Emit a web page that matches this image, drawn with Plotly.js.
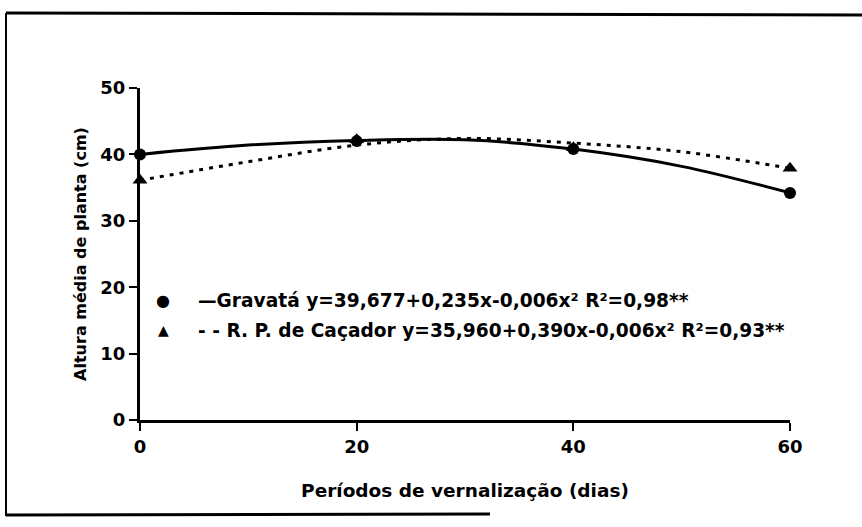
<!DOCTYPE html>
<html>
<head>
<meta charset="utf-8">
<script src="https://cdn.plot.ly/plotly-3.0.1.min.js"></script>
<style>html,body{margin:0;padding:0;background:#fff;}#chart{width:862px;height:527px;}</style>
</head>
<body>
<div id="chart"></div>
<script>
// Observed means
var days = [0, 20, 40, 60];
var gravataObs = [40.0, 42.0, 40.8, 34.2];
var cacadorObs = [36.1, 42.2, 41.0, 37.9];
// Fitted curves
var curveDays = [0, 10, 20, 30, 40, 50, 60];
var gravataFit = [40.0, 41.4, 42.1, 42.2, 40.8, 38.2, 34.2];
var cacadorFit = [36.1, 38.9, 41.4, 42.4, 41.7, 40.4, 37.9];
var xTicks = [0, 20, 40, 60];
var yTicks = [0, 10, 20, 30, 40, 50];
var legendLabels = [
  "\u2014Gravat\u00e1 y=39,677+0,235x-0,006x\u00b2 R\u00b2=0,98**",
  "- - R. P. de Ca\u00e7ador y=35,960+0,390x-0,006x\u00b2 R\u00b2=0,93**"
];

var F = "DejaVu Sans, Liberation Sans, sans-serif";
var traces = [
  {x: curveDays, y: gravataFit, mode: "lines", line: {color: "#000", width: 3, shape: "spline"}, hoverinfo: "skip"},
  {x: curveDays, y: cacadorFit, mode: "lines", line: {color: "#000", width: 3, dash: "4px,6px", shape: "spline"}, hoverinfo: "skip"},
  {x: days, y: gravataObs, mode: "markers", marker: {symbol: "circle", size: 12, color: "#000"}, cliponaxis: false},
  {x: days, y: cacadorObs, mode: "markers", marker: {symbol: "triangle-up", size: 13, color: "#000"}, cliponaxis: false}
];

var px = function(p){ return (p - 140) / 650; };
var py = function(p){ return (420 - p) / 332; };

var layout = {
  width: 862, height: 527,
  margin: {l: 140, r: 72, t: 88, b: 107},
  paper_bgcolor: "#fff", plot_bgcolor: "#fff",
  showlegend: false,
  font: {family: F, color: "#000"},
  xaxis: {
    range: [0, 60], tickvals: xTicks, ticktext: xTicks.map(String),
    showline: true, linecolor: "#000", linewidth: 3, zeroline: false, showgrid: false,
    ticks: "outside", ticklen: 8, tickwidth: 2, tickcolor: "#000",
    tickfont: {family: F, size: 18, color: "#000", weight: "bold"},
    title: {text: "<b>Per\u00edodos de vernaliza\u00e7\u00e3o (dias)</b>", font: {family: F, size: 18.5, color: "#000"}, standoff: 29}
  },
  yaxis: {
    range: [0, 50], tickvals: yTicks, ticktext: yTicks.map(String),
    showline: true, linecolor: "#000", linewidth: 3, zeroline: false, showgrid: false,
    ticks: "outside", ticklen: 8, tickwidth: 2, tickcolor: "#000",
    tickfont: {family: F, size: 18, color: "#000", weight: "bold"},
    title: {text: "<b>Altura m\u00e9dia de planta (cm)</b>", font: {family: F, size: 16, color: "#000"}, standoff: 10}
  },
  annotations: [
    {xref: "paper", yref: "paper", x: px(163), y: py(300), text: "\u25cf", showarrow: false, font: {size: 16, color: "#000"}, xanchor: "center", yanchor: "middle"},
    {xref: "paper", yref: "paper", x: px(163), y: py(330), text: "\u25b2", showarrow: false, font: {size: 14, color: "#000"}, xanchor: "center", yanchor: "middle"},
    {xref: "paper", yref: "paper", x: px(196), y: py(300), text: "<b>" + legendLabels[0] + "</b>", showarrow: false, font: {family: F, size: 18.6, color: "#000"}, xanchor: "left", yanchor: "middle"},
    {xref: "paper", yref: "paper", x: px(196), y: py(330), text: "<b>" + legendLabels[1] + "</b>", showarrow: false, font: {family: F, size: 18.6, color: "#000"}, xanchor: "left", yanchor: "middle"}
  ],
  shapes: [
    {type: "line", xref: "paper", yref: "paper", x0: px(6), x1: px(6), y0: py(13), y1: py(516), line: {color: "#000", width: 2}},
    {type: "line", xref: "paper", yref: "paper", x0: px(6), x1: px(862), y0: py(13), y1: py(15), line: {color: "#000", width: 3}},
    {type: "line", xref: "paper", yref: "paper", x0: px(6), x1: px(490), y0: py(515), y1: py(514), line: {color: "#000", width: 3}}
  ]
};

Plotly.newPlot("chart", traces, layout, {displayModeBar: false, staticPlot: true});
</script>
</body>
</html>
